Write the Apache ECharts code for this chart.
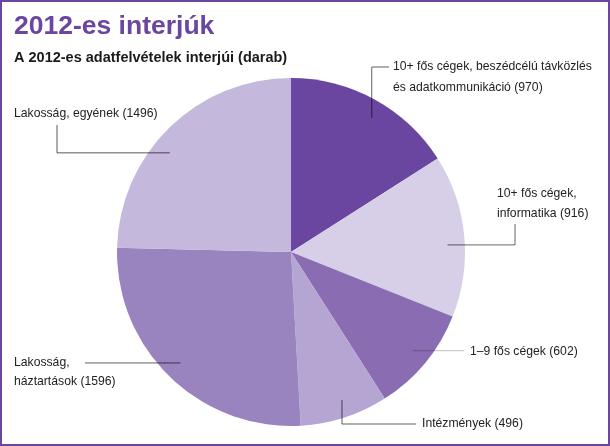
<html>
<head>
<meta charset="utf-8">
<title>2012-es interjúk</title>
<script src="https://cdn.jsdelivr.net/npm/echarts@6/dist/echarts.min.js"></script>
<style>
body { margin: 0; background: #fff; }
#chart { position: absolute; left: 0; top: 0; width: 610px; height: 446px; }
#frame { position: absolute; left: 0; top: 0; width: 610px; height: 446px;
         box-sizing: border-box; border: 2px solid #6b46a0; pointer-events: none; }
</style>
</head>
<body>
<div id="chart"></div>
<div id="frame"></div>
<script>
// adatok
var categories = [
	'10+ fős cégek, beszédcélú távközlés\nés adatkommunikáció',
	'10+ fős cégek,\ninformatika',
	'1–9 fős cégek',
	'Intézmények',
	'Lakosság,\nháztartások',
	'Lakosság, egyének'
];
var values = [970, 916, 602, 496, 1596, 1496];
var colors = ['#6b46a0', '#d6cfe7', '#8a6cb2', '#b5a5d3', '#9a84c0', '#c4b8dc'];

var CENTER = [291, 252];
var RADIUS = 174;

// címkék helye: bal szél, első sor közepe, sormagasság, vonal vége, törés iránya
// ('v' függőlegesen, 'h' vízszintesen indul, 's' egyenes),
// a vonal kezdőpontjának szögeltolása (fok) és átlátszósága
var labelPos = [
	{ x: 393, y: 67, lh: 21, end: [389, 67], via: 'v', off: 2.3, a: 0.62 },
	{ x: 497, y: 194, lh: 20, end: [515, 224], via: 'h', off: 2.8, a: 0.6 },
	{ x: 470, y: 352, lh: 20, end: [464, 351], via: 's', off: -0.5, a: 0.25 },
	{ x: 422, y: 424, lh: 20, end: [416, 424], via: 'v', off: -1.1, a: 0.62 },
	{ x: 14, y: 363, lh: 19, end: [85, 363], via: 's', off: 0.8, a: 0.62 },
	{ x: 14, y: 114, lh: 20, end: [57, 125], via: 'h', off: -6.4, a: 0.65 }
];

var myChart = echarts.init(document.getElementById('chart'));

var pieData = [];
var labelData = [];
for (var i = 0; i < values.length; i++) {
	pieData.push({
		name: categories[i],
		value: values[i],
		itemStyle: { color: colors[i] }
	});
	labelData.push({
		name: categories[i],
		value: values[i],
		label: { lineHeight: labelPos[i].lh },
		labelLine: { lineStyle: { color: 'rgba(0,0,0,' + labelPos[i].a + ')' } }
	});
}

var option = {
	animation: false,
	title: [
		{
			text: '2012-es interjúk',
			left: 9, top: 8,
			textStyle: { fontFamily: 'Liberation Sans', fontSize: 26.5, fontWeight: 'bold', color: '#6b46a0' }
		},
		{
			text: 'A 2012-es adatfelvételek interjúi (darab)',
			left: 9, top: 45,
			textStyle: { fontFamily: 'Liberation Sans', fontSize: 14.5, fontWeight: 'bold', color: '#1a1a1a' }
		}
	],
	series: [
		// szeletek
		{
			type: 'pie',
			z: 2,
			center: CENTER,
			radius: RADIUS,
			startAngle: 90,
			clockwise: true,
			silent: true,
			itemStyle: { borderWidth: 0 },
			label: { show: false },
			labelLine: { show: false },
			data: pieData
		},
		// címkék és vezetővonalak (átlátszó szeletek felül)
		{
			type: 'pie',
			z: 3,
			center: CENTER,
			radius: RADIUS,
			startAngle: 90,
			clockwise: true,
			silent: true,
			itemStyle: { color: 'rgba(0,0,0,0)', borderWidth: 0 },
			label: {
				show: true,
				formatter: '{b} ({c})',
				fontFamily: 'Liberation Sans',
				fontSize: 12.2,
				color: '#222',
				overflow: 'none'
			},
			labelLine: {
				show: true,
				lineStyle: { width: 1 }
			},
			labelLayout: function (params) {
				var p = labelPos[params.dataIndex];
				var p0 = params.labelLinePoints[0];
				var phi = Math.atan2(p0[1] - CENTER[1], p0[0] - CENTER[0]) + p.off * Math.PI / 180;
				// a vonal a szelet belsejéből indul (0.9 R)
				var a = [CENTER[0] + 0.9 * RADIUS * Math.cos(phi), CENTER[1] + 0.9 * RADIUS * Math.sin(phi)];
				var end = p.end, mid;
				if (p.via == 'v') {
					mid = [a[0], end[1]];
				} else if (p.via == 'h') {
					mid = [end[0], a[1]];
				} else {
					end = [end[0], a[1]];
					mid = [(a[0] + end[0]) / 2, a[1]];
				}
				return {
					x: p.x,
					y: p.y - p.lh / 2,
					align: 'left',
					verticalAlign: 'top',
					labelLinePoints: [a, mid, end]
				};
			},
			data: labelData
		}
	]
};

myChart.setOption(option);
</script>
</body>
</html>
